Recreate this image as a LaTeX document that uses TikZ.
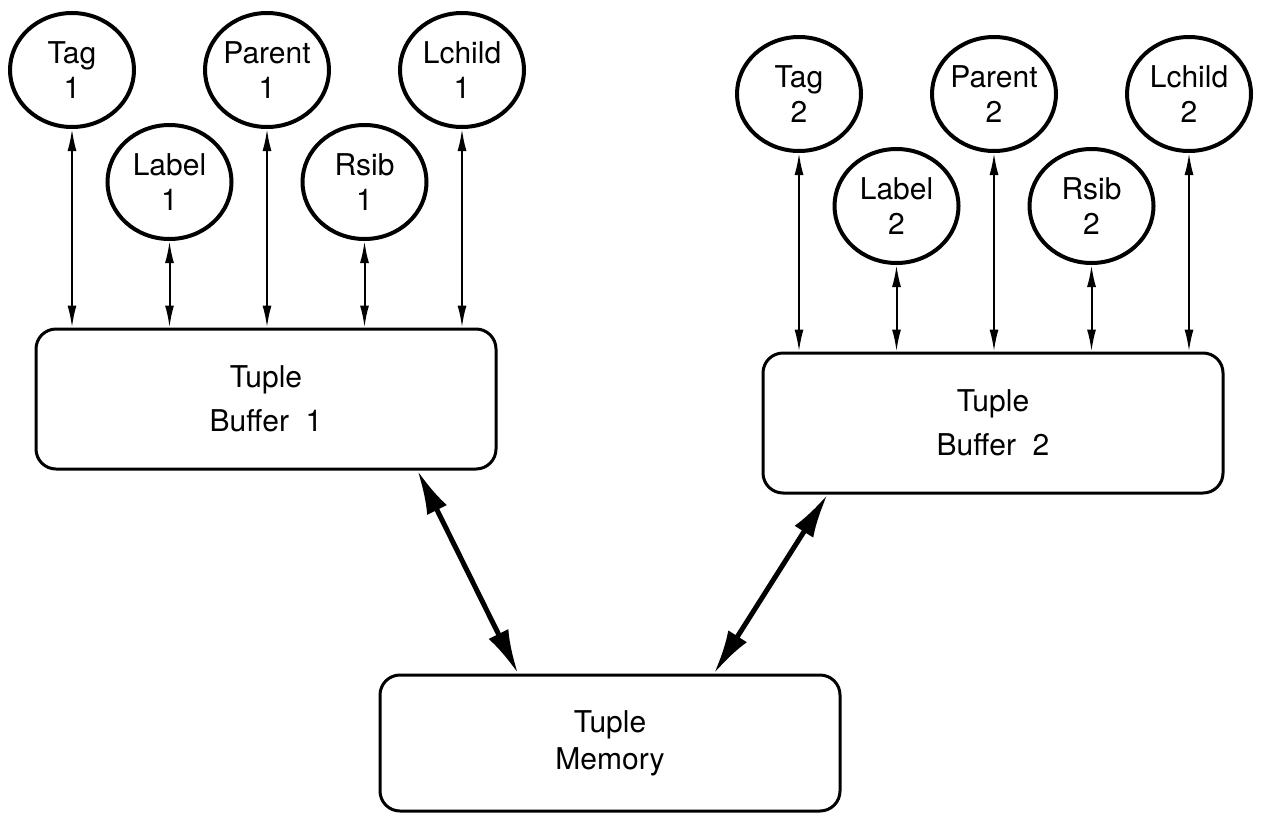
\documentclass[tikz,border=0pt]{standalone}
\usepackage{fontspec}
\setmainfont{TeX Gyre Heros}
\usetikzlibrary{shapes.geometric,arrows.meta}

\begin{document}
\begin{tikzpicture}[x=0.5pt,y=-0.5pt]
    \tikzstyle{field}=[ellipse,draw=black,line width=2pt,minimum width=62pt,minimum height=57pt,inner sep=0pt,align=center,font=\fontsize{15}{17.5}\selectfont]
    \tikzstyle{buffer}=[rectangle,rounded corners=10pt,draw=black,line width=1.5pt,minimum width=230pt,minimum height=70pt,align=center,font=\fontsize{15}{22}\selectfont]
    \tikzstyle{link} = [draw=black, line width=1pt, {Latex[length=11pt,width=4.5pt]}-{Latex[length=11pt,width=4.5pt]}]
    \tikzstyle{bus} = [draw=black, line width=2.5pt, {Latex[length=22pt,width=11pt]}-{Latex[length=22pt,width=11pt]}]

    \useasboundingbox (0,0) rectangle (1267,819);

    \def\dx{97.5}
    \def\ox{72}
    \def\uy{70}
    \def\ly{182}

    \begin{scope}[shift={(0,0)}]

    \node[field]  (t1) at (\ox+0*\dx,\uy) {Tag\\1};
    \node[field]  (l1) at (\ox+1*\dx,\ly) {Label\\1};
    \node[field]  (p1) at (\ox+2*\dx,\uy) {Parent\\1};
    \node[field]  (r1) at (\ox+3*\dx,\ly) {Rsib\\1};
    \node[field]  (c1) at (\ox+4*\dx,\uy) {Lchild\\1};

    \node[buffer] (b1) at (266,399) {Tuple\\Buffer~~1};

   \draw [link] (t1) -- (t1 |- b1.north);
   \draw [link] (l1) -- (l1 |- b1.north);
   \draw [link] (p1) -- (p1 |- b1.north);
   \draw [link] (r1) -- (r1 |- b1.north);
   \draw [link] (c1) -- (c1 |- b1.north);

    \end{scope}

    \begin{scope}[shift={(727,24)}]

    \node[field]  (t2) at (\ox+0*\dx,\uy) {Tag\\2};
    \node[field]  (l2) at (\ox+1*\dx,\ly) {Label\\2};
    \node[field]  (p2) at (\ox+2*\dx,\uy) {Parent\\2};
    \node[field]  (r2) at (\ox+3*\dx,\ly) {Rsib\\2};
    \node[field]  (c2) at (\ox+4*\dx,\uy) {Lchild\\2};

    \node[buffer] (b2) at (266,399) {Tuple\\Buffer~~2};

   \draw [link] (t2) -- (t2 |- b2.north);
   \draw [link] (l2) -- (l2 |- b2.north);
   \draw [link] (p2) -- (p2 |- b2.north);
   \draw [link] (r2) -- (r2 |- b2.north);
   \draw [link] (c2) -- (c2 |- b2.north);

    \end{scope}

    \node[buffer,minimum height=68pt,font=\fontsize{15}{18.5}\selectfont] (mem) at (610,743) {Tuple\\Memory};

   \draw [bus] ([xshift=-40pt]b1.south east) -- ([xshift=-46pt]mem.north);
   \draw [bus] ([xshift=52pt]mem.north) -- ([xshift=33pt]b2.south west);

\end{tikzpicture}
\end{document}
